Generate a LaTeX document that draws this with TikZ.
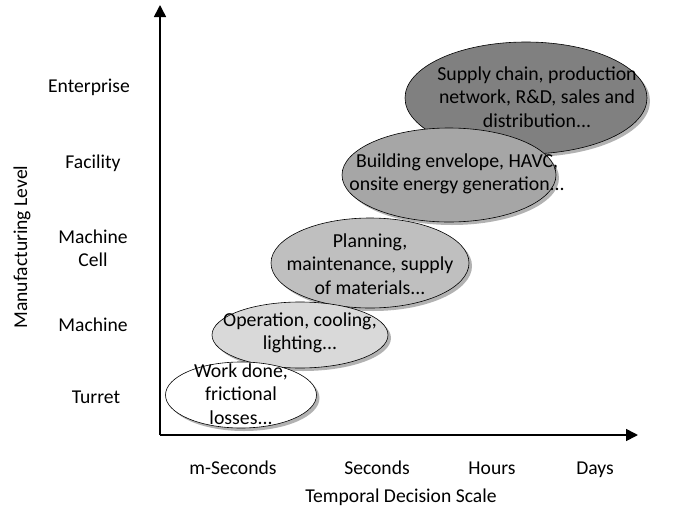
\documentclass[tikz,border=0pt]{standalone}
\usepackage{fontspec}
\setmainfont{Carlito}
\usetikzlibrary{arrows.meta,shapes.geometric,shadows,positioning}

\begin{document}
\begin{tikzpicture}[x=1pt, y=-1pt, font=\fontsize{19.6}{23}\selectfont, >={Triangle[length=12pt, width=12pt]}]
    \tikzstyle{level} = [ellipse, draw, line width=0.6pt, inner sep=0, drop shadow={shadow xshift=3pt, shadow yshift=-3pt, fill=black!60, draw=none}]
    \tikzstyle{desc}  = [align=center, inner sep=0, font=\fontsize{19.8}{23.5}\selectfont]
    \tikzstyle{axis}  = [->, line width=1.6pt]
    \tikzstyle{tick}  = [align=center, inner sep=0]

    \useasboundingbox (0,0) rectangle (681,512);

    % ellipses, from back to front
    \node[level, fill=black!50, minimum width=242, minimum height=112] (ent) at (526,98)  {};
    \node[desc] at (537,97)  {Supply chain, production\\network, R\&D, sales and\\distribution...};
    \node[level, fill=black!35, minimum width=214, minimum height=94]  (fac) at (449,175) {};
    \node[desc] at (457,174) {Building envelope, HAVC,\\onsite energy generation...};
    \node[level, fill=black!25, minimum width=198, minimum height=90]  (cel) at (370,263) {};
    \node[desc] at (370,264) {Planning,\\maintenance, supply\\of materials...};
    \node[level, fill=black!15, minimum width=176, minimum height=66]  (mac) at (300,335) {};
    \node[desc] at (300,333) {Operation, cooling,\\lighting...};
    \node[level, fill=white,    minimum width=151, minimum height=66]  (tur) at (241,395) {};
    \node[desc] at (241,394) {Work done,\\frictional\\losses...};

    % axes
    \coordinate (o)  at (160,435);
    \coordinate (yt) at (160,5);
    \coordinate (xt) at (638,435);
    \draw[axis] (o) -- (yt);
    \draw[axis] (o) -- (xt);

    % manufacturing levels
    \node[tick] (l5) at (89,87)  {Enterprise};
    \node[tick] (l4) at (93,163) {Facility};
    \node[tick] (l3) at (93,248) {Machine\\Cell};
    \node[tick] (l2) at (93,325) {Machine};
    \node[tick] (l1) at (96,397) {Turret};
    \node[tick, rotate=90] (ylab) at (22,247) {Manufacturing Level};

    % temporal scale
    \node[tick, anchor=base] (t1) at (233,474) {m-Seconds};
    \node[tick, anchor=base] (t2) at (377,474) {Seconds};
    \node[tick, anchor=base] (t3) at (492,474) {Hours};
    \node[tick, anchor=base] (t4) at (595,474) {Days};
    \node[tick] (xlab) at (401,497) {Temporal Decision Scale};
\end{tikzpicture}
\end{document}
